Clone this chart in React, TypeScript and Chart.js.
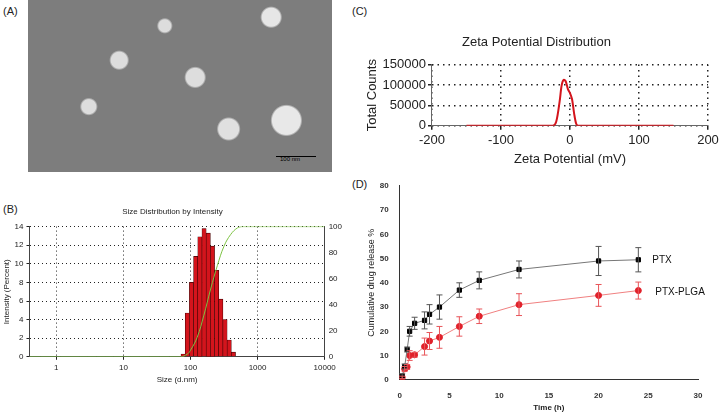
import React, { useEffect, useRef } from "react";
import { Chart, registerables } from "chart.js";
Chart.register(...registerables);

const FONT = "'Liberation Sans', Arial, sans-serif";

// Panel B
const binLogCenters = [1.89, 1.9525, 2.015, 2.0775, 2.14, 2.2025, 2.265, 2.3275, 2.39, 2.4525, 2.515, 2.5775, 2.64];
const binIntensity = [0.3, 4.7, 8.0, 10.8, 12.9, 13.8, 13.3, 11.9, 9.3, 6.2, 4.0, 1.8, 0.5];
const cumLogX = [-0.4, 1.85, 1.95, 2.0, 2.1, 2.2, 2.3, 2.4, 2.5, 2.6, 2.7, 2.78, 4];
const cumY = [0, 0, 2, 5, 15, 32, 52, 70, 85, 94, 99, 100, 100];
const sizeTickLabels = ["1", "10", "100", "1000", "10000"];

// Panel C
const zetaX = [-150, -25, -20, -15, -12, -9, -6, -3, 0, 3, 6, 9, 12, 150];
const zetaY = [0, 0, 10000, 60000, 100000, 113000, 108000, 90000, 80000, 65000, 30000, 5000, 0, 0];

// Panel D
const timeH = [0.25, 0.5, 0.75, 1, 1.5, 2.5, 3, 4, 6, 8, 12, 20, 24];
const ptx = [1.5, 5.5, 12.5, 20, 23.3, 24.5, 27, 30, 37, 41, 45.5, 49, 49.5];
const ptxErr = [1, 1, 1, 2, 2.5, 3.5, 4, 5, 3, 3.5, 3.5, 6, 5];
const plga = [1, 4.5, 5.3, 10, 10.3, 13.7, 16, 17.5, 22, 26.2, 31, 34.8, 36.8];
const plgaErr = [0.5, 1, 1, 2, 1, 3.5, 3.5, 4.5, 4, 3, 4.5, 4.5, 3.5];
const seriesNames = ["PTX", "PTX-PLGA"];

function useChart(ref: React.RefObject<HTMLCanvasElement>, make: (c: HTMLCanvasElement) => Chart) {
  useEffect(() => {
    if (!ref.current) return;
    const ch = make(ref.current);
    return () => ch.destroy();
  }, []);
}

export default function App() {
  const bRef = useRef<HTMLCanvasElement>(null);
  const cRef = useRef<HTMLCanvasElement>(null);
  const dRef = useRef<HTMLCanvasElement>(null);

  useChart(bRef, (el) =>
    new Chart(el, {
      type: "bar",
      data: {
        datasets: [
          {
            type: "line",
            data: cumLogX.map((x, i) => ({ x, y: cumY[i] })),
            borderColor: "#7cc242",
            borderWidth: 1,
            pointRadius: 0,
            tension: 0.4,
            yAxisID: "y2",
          } as any,
          {
            type: "bar",
            data: binLogCenters.map((x, i) => ({ x, y: binIntensity[i] })),
            backgroundColor: "#d4141c",
            borderColor: "#3a0000",
            borderWidth: 0.6,
            barPercentage: 1,
            categoryPercentage: 1,
            yAxisID: "y",
          },
        ],
      },
      options: {
        responsive: false,
        animation: false,
        layout: { padding: { right: 4 } },
        plugins: {
          legend: { display: false },
          tooltip: { enabled: false },
          title: { display: true, text: "Size Distribution by Intensity", font: { family: FONT, size: 8, weight: "normal" }, color: "#222", padding: { top: 2, bottom: 10 } },
        },
        scales: {
          x: {
            type: "linear",
            offset: false,
            min: -0.4,
            max: 4,
            afterBuildTicks: (s: any) => { s.ticks = [0, 1, 2, 3, 4].map((v) => ({ value: v })); },
            ticks: { callback: (v: any) => sizeTickLabels[v], font: { family: FONT, size: 8 }, color: "#222", maxRotation: 0 },
            grid: { color: "#222", tickLength: 3, offset: false },
            border: { color: "#444", dash: [1, 3] },
            title: { display: true, text: "Size (d.nm)", font: { family: FONT, size: 8 }, color: "#222", padding: 0 },
          },
          y: {
            min: 0, max: 14,
            ticks: { stepSize: 2, font: { family: FONT, size: 8 }, color: "#222" },
            grid: { color: "#222", tickLength: 3 },
            border: { color: "#444", dash: [1, 3] },
            title: { display: true, text: "Intensity (Percent)", font: { family: FONT, size: 8 }, color: "#222", padding: 0 },
          },
          y2: {
            position: "right",
            min: 0, max: 100,
            ticks: { stepSize: 20, font: { family: FONT, size: 8 }, color: "#222", padding: 1 },
            grid: { display: false, tickLength: 3 },
            border: { color: "#444" },
          },
        },
      } as any,
    })
  );

  useChart(cRef, (el) =>
    new Chart(el, {
      type: "line",
      data: {
        datasets: [
          {
            data: zetaX.map((x, i) => ({ x, y: zetaY[i] })),
            borderColor: "#d4141c",
            borderWidth: 2,
            pointRadius: 0,
            tension: 0.3,
          },
        ],
      },
      options: {
        responsive: false,
        animation: false,
        layout: { padding: { right: 14 } },
        plugins: {
          legend: { display: false },
          tooltip: { enabled: false },
          title: { display: true, text: "Zeta Potential Distribution", font: { family: FONT, size: 13, weight: "normal" }, color: "#222", padding: { top: 0, bottom: 14 } },
        },
        scales: {
          x: {
            type: "linear", min: -200, max: 200,
            ticks: { stepSize: 100, font: { family: FONT, size: 13 }, color: "#222", maxRotation: 0 },
            grid: { color: "#222", lineWidth: 1.5, tickLength: 4 },
            border: { color: "#666", dash: [1.5, 4] },
            title: { display: true, text: "Zeta Potential (mV)", font: { family: FONT, size: 13 }, color: "#222", padding: 0 },
          },
          y: {
            min: 0, max: 150000,
            ticks: { stepSize: 50000, autoSkip: false, callback: (v: any) => String(v), font: { family: FONT, size: 13, lineHeight: 1 }, color: "#222", padding: 2 },
            grid: { color: "#222", lineWidth: 1.5, tickLength: 4 },
            border: { color: "#666", dash: [1.5, 4] },
            title: { display: true, text: "Total Counts", font: { family: FONT, size: 13 }, color: "#222", padding: 0 },
          },
        },
      } as any,
    })
  );

  useChart(dRef, (el) => {
    const errs = [ptxErr, plgaErr];
    const cols = ["#555", "#e8555a"];
    const errPlugin = {
      id: "errbars",
      afterDatasetsDraw(chart: any) {
        const ctx = chart.ctx;
        const xs = chart.scales.x, ys = chart.scales.y;
        [ptx, plga].forEach((vals, k) => {
          ctx.save();
          ctx.strokeStyle = cols[k];
          ctx.lineWidth = 1;
          vals.forEach((v, i) => {
            const px = xs.getPixelForValue(timeH[i]);
            const top = ys.getPixelForValue(v + errs[k][i]);
            const bot = ys.getPixelForValue(v - errs[k][i]);
            ctx.beginPath();
            ctx.moveTo(px, top); ctx.lineTo(px, bot);
            ctx.moveTo(px - 3, top); ctx.lineTo(px + 3, top);
            ctx.moveTo(px - 3, bot); ctx.lineTo(px + 3, bot);
            ctx.stroke();
          });
          ctx.restore();
        });
        ctx.save();
        ctx.fillStyle = "#111";
        ctx.font = `10px ${FONT}`;
        ctx.textBaseline = "middle";
        const last = timeH.length - 1;
        ctx.fillText(seriesNames[0], xs.getPixelForValue(timeH[last]) + 14, ys.getPixelForValue(ptx[last]));
        ctx.fillText(seriesNames[1], xs.getPixelForValue(timeH[last]) + 17, ys.getPixelForValue(plga[last]) + 2);
        ctx.restore();
      },
    };
    return new Chart(el, {
      type: "line",
      data: {
        datasets: [
          {
            data: timeH.map((x, i) => ({ x, y: ptx[i] })),
            borderColor: "#777", borderWidth: 1,
            pointStyle: "rect", pointRadius: 3, pointBackgroundColor: "#000", pointBorderColor: "#000",
          },
          {
            data: timeH.map((x, i) => ({ x, y: plga[i] })),
            borderColor: "#f08080", borderWidth: 1,
            pointStyle: "circle", pointRadius: 3, pointBackgroundColor: "#e0202a", pointBorderColor: "#e0202a",
          },
        ],
      },
      options: {
        responsive: false,
        animation: false,
        layout: { padding: { right: 18 } },
        plugins: { legend: { display: false }, tooltip: { enabled: false } },
        scales: {
          x: {
            type: "linear", min: 0, max: 30,
            ticks: { stepSize: 5, font: { family: FONT, size: 8, weight: "bold" }, color: "#333", maxRotation: 0 },
            grid: { display: false, drawTicks: true },
            border: { color: "#333" },
            title: { display: true, text: "Time (h)", font: { family: FONT, size: 8, weight: "bold" }, color: "#222", padding: 0 },
          },
          y: {
            min: 0, max: 80,
            ticks: { stepSize: 10, font: { family: FONT, size: 8, weight: "bold" }, color: "#333" },
            grid: { display: false },
            border: { color: "#333" },
            title: { display: true, text: "Cumulative drug release %", font: { family: FONT, size: 9 }, color: "#222", padding: 0 },
          },
        },
      } as any,
      plugins: [errPlugin],
    });
  });

  const lbl: React.CSSProperties = { position: "absolute", fontFamily: FONT, fontSize: 11, color: "#222" };

  return (
    <div style={{ position: "absolute", left: 0, top: 0, width: 723, height: 414, background: "#fff", overflow: "hidden" }}>
      <div style={{ ...lbl, left: 3, top: 5 }}>(A)</div>
      <div
        style={{
          position: "absolute", left: 28, top: 0, width: 304, height: 172,
          background:
            "radial-gradient(circle at 85% 70%, #e8e8e8 0 14px, transparent 16px), radial-gradient(circle at 66% 75%, #e0e0e0 0 10px, transparent 12px), radial-gradient(circle at 30% 35%, #ddd 0 8px, transparent 10px), radial-gradient(circle at 55% 45%, #ddd 0 9px, transparent 11px), radial-gradient(circle at 20% 62%, #ddd 0 7px, transparent 9px), radial-gradient(circle at 80% 10%, #e6e6e6 0 9px, transparent 11px), radial-gradient(circle at 45% 15%, #ddd 0 6px, transparent 8px), #7d7d7d",
        }}
      >
        <div style={{ position: "absolute", left: 248, top: 156, width: 40, borderTop: "1px solid #000" }} />
        <div style={{ position: "absolute", left: 252, top: 156, fontSize: 6, fontFamily: FONT }}>100 nm</div>
      </div>
      <div style={{ ...lbl, left: 3, top: 203 }}>(B)</div>
      <canvas ref={bRef} width={345} height={180} style={{ position: "absolute", left: 2, top: 205 }} />
      <div style={{ ...lbl, left: 352, top: 5 }}>(C)</div>
      <canvas ref={cRef} width={357} height={132} style={{ position: "absolute", left: 365, top: 35 }} />
      <div style={{ ...lbl, left: 352, top: 178 }}>(D)</div>
      <canvas ref={dRef} width={350} height={235} style={{ position: "absolute", left: 366, top: 178 }} />
    </div>
  );
}
